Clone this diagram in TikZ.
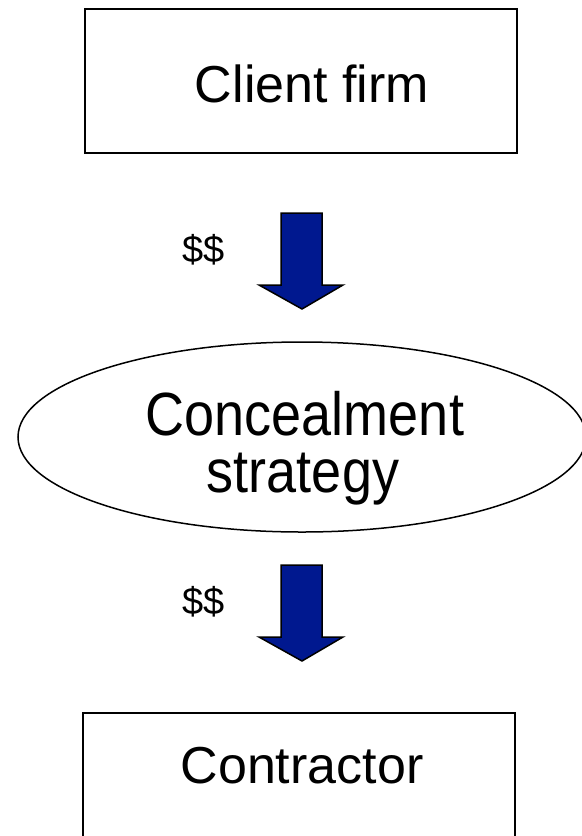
\documentclass[tikz,border=0pt]{standalone}
\usepackage{fontspec}
\setmainfont{Liberation Sans}
\usetikzlibrary{shapes.geometric}
\definecolor{flowblue}{RGB}{0,24,143}
\tikzset{
  box/.style={draw, line width=1pt, minimum width=216pt, minimum height=72pt, inner sep=0pt},
  bigtext/.style={font=\fontsize{26pt}{30pt}\selectfont, inner sep=0pt},
  talltext/.style={font=\fontsize{27pt}{30pt}\selectfont, inner sep=0pt},
  smalltext/.style={font=\fontsize{19pt}{22pt}\selectfont, inner sep=0pt},
  blockarrow/.style={fill=flowblue, draw=black, line width=0.75pt, line join=miter}
}
\begin{document}
\begin{tikzpicture}[x=0.5pt, y=-0.5pt]
    \clip (0,0) rectangle (582,836);

    % Boxes and ellipse
    \node[box] (client) at (301,81) {};
    \node[bigtext, anchor=base] (clientname) at (312,102) {Client firm};

    \node[ellipse, draw, line width=0.75pt, minimum width=284pt, minimum height=95pt,
          inner sep=0pt] (strategy) at (302,437) {};
    \node[talltext, anchor=base] (strategyline1) at (305,435) {\scalebox{1}[1.13]{Concealment}};
    \node[talltext, anchor=base] (strategyline2) at (303,492) {\scalebox{1}[1.13]{strategy}};

    \node[box] (contractor) at (298.5,785) {};
    \node[bigtext, anchor=base] (contractorname) at (302,783) {Contractor};

    % Money flows
    \draw[blockarrow] (281,213) -- (322,213) -- (322,285) -- (343,285) -- (302,309)
        -- (259,285) -- (281,285) -- cycle;
    \node[smalltext] (money1) at (204,250) {\$\$};

    \draw[blockarrow] (281,565) -- (322,565) -- (322,637) -- (343,637) -- (302,661)
        -- (259,637) -- (281,637) -- cycle;
    \node[smalltext] (money2) at (204,602) {\$\$};
\end{tikzpicture}
\end{document}
